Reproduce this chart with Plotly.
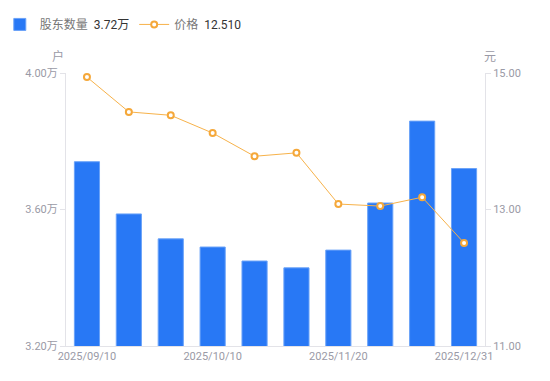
import plotly.graph_objects as go

dates = ["2025/09/10", "2025/09/19", "2025/09/30", "2025/10/10", "2025/10/20",
         "2025/10/31", "2025/11/20", "2025/11/28", "2025/12/10", "2025/12/31"]
holders = [3.74, 3.587, 3.514, 3.49, 3.449, 3.429, 3.481, 3.619, 3.859, 3.72]  # 万户
price = [14.94, 14.43, 14.38, 14.12, 13.78, 13.83, 13.08, 13.05, 13.18, 12.51]

tick_dates = ["2025/09/10", "2025/10/10", "2025/11/20", "2025/12/31"]
left_ticks = [3.2, 3.6, 4.0]
left_ticktext = ["3.20万", "3.60万", "4.00万"]
right_ticks = [11, 13, 15]

FONT = "Roboto, 'Noto Sans CJK SC', sans-serif"
GRAY = "#9a9aa6"
AXIS = "#e3e3e8"

fig = go.Figure()
fig.add_trace(go.Bar(
    x=dates, y=holders, name="股东数量  <span style='color:#333'>3.72万</span>",
    marker=dict(color="#2878F5", line=dict(color="#6aa2f8", width=1)),
    width=0.6, yaxis="y",
))
fig.add_trace(go.Scatter(
    x=dates, y=price, name="价格  <span style='color:#333'>12.510</span>",
    mode="lines+markers", yaxis="y2",
    line=dict(color="#F7B24A", width=1),
    marker=dict(size=6, color="white", line=dict(color="#F5A83A", width=2)),
))

fig.update_layout(
    width=550, height=381,
    margin=dict(l=58, r=73, t=65, b=43, autoexpand=False),
    paper_bgcolor="white", plot_bgcolor="white",
    font=dict(family=FONT, size=11, color=GRAY),
    showlegend=True,
    legend=dict(orientation="h", x=-0.158, y=1.231, xanchor="left", yanchor="top",
                font=dict(size=12, color="#777"), itemwidth=30,
                bgcolor="rgba(0,0,0,0)"),
    bargap=0.4,
    xaxis=dict(type="category", showline=True, linecolor=AXIS, linewidth=1,
               tickmode="array", tickvals=tick_dates, ticktext=tick_dates,
               ticks="", showgrid=False, tickfont=dict(size=11, color=GRAY),
               range=[-0.5, 9.5], automargin=False),
    yaxis=dict(range=[3.2, 4.0], tickvals=left_ticks, ticktext=left_ticktext,
               showline=True, linecolor=AXIS, linewidth=1, ticks="outside",
               ticklen=5, tickcolor=AXIS, showgrid=False, zeroline=False,
               tickfont=dict(size=11, color=GRAY), automargin=False),
    yaxis2=dict(range=[11, 15], tickvals=right_ticks, tickformat=".2f",
                overlaying="y", side="right",
                showline=True, linecolor=AXIS, linewidth=1, ticks="outside",
                ticklen=5, tickcolor=AXIS, showgrid=False, zeroline=False,
                tickfont=dict(size=11, color=GRAY), automargin=False),
    annotations=[
        dict(text="户", xref="paper", yref="paper", x=-0.019, y=1.059,
             xanchor="center", yanchor="middle", showarrow=False,
             font=dict(size=12, color=GRAY)),
        dict(text="元", xref="paper", yref="paper", x=1.012, y=1.059,
             xanchor="center", yanchor="middle", showarrow=False,
             font=dict(size=12, color=GRAY)),
    ],
)

fig.write_html("out.html")
